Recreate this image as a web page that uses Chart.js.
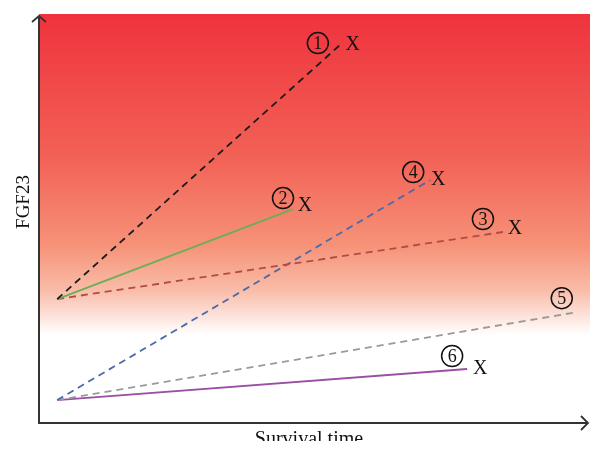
<!DOCTYPE html>
<html>
<head>
<meta charset="utf-8">
<script src="https://cdn.jsdelivr.net/npm/chart.js@4/dist/chart.umd.min.js"></script>
<style>
  html, body { margin:0; padding:0; background:#fff; }
  #wrap { width:604px; height:454px; }
</style>
</head>
<body>
<div id="wrap"><canvas id="chart" width="604" height="454"></canvas></div>
<script>
// Survival time (x) and FGF23 (y), arbitrary 0-100 units
const pathIds   = ['1', '2', '3', '4', '5', '6'];
const startX    = [3.3, 3.3, 3.3, 3.3, 3.3, 3.3];
const startY    = [30.3, 30.3, 30.3, 5.6, 5.6, 5.6];
const endX      = [54.6, 46.1, 84.2, 71.0, 97.6, 77.7];
const endY      = [92.4, 52.3, 46.7, 59.4, 27.1, 13.2];
const died      = [true, true, true, true, false, true];
const colors    = ['#1b1b1b', '#6aaf55', '#b44a45', '#4a6aa8', '#9a9a9a', '#9b4ea3'];
const dashed    = [true, false, true, true, true, false];
// label offsets (px) from line end: circle, then X
const circOff   = [[-22, -2], [-10, -11], [-20, -13], [-17, -8], [-15, -14], [-15, -13]];
const xOff      = [[13, 0], [12, -3], [12, -3], [8, 0], [0, 0], [13, 0]];

const datasets = pathIds.map((id, i) => ({
  label: 'Patient ' + id,
  data: [{ x: startX[i], y: startY[i] }, { x: endX[i], y: endY[i] }],
  borderColor: colors[i],
  borderWidth: 1.8,
  borderDash: dashed[i] ? [7, 5] : [],
  pointRadius: 0,
  showLine: true,
  fill: false
}));

const serif = '"Liberation Serif", "DejaVu Serif", serif';

const background = {
  id: 'background',
  beforeDatasetsDraw(chart) {
    const { ctx, chartArea: a } = chart;
    const fadeEnd = a.top + (a.bottom - a.top) * 0.785;
    const g = ctx.createLinearGradient(0, a.top, 0, fadeEnd);
    g.addColorStop(0, 'rgb(239,51,61)');
    g.addColorStop(0.45, 'rgb(242,98,86)');
    g.addColorStop(0.72, 'rgb(246,146,120)');
    g.addColorStop(0.86, 'rgb(249,188,168)');
    g.addColorStop(1, 'rgb(255,255,255)');
    ctx.save();
    ctx.fillStyle = g;
    ctx.fillRect(a.left, a.top, a.right - a.left, fadeEnd - a.top);
    ctx.restore();
  }
};

const decorations = {
  id: 'decorations',
  afterDatasetsDraw(chart) {
    const { ctx, chartArea: a, scales: { x, y } } = chart;
    ctx.save();
    // axes
    ctx.strokeStyle = '#333';
    ctx.lineWidth = 2;
    ctx.beginPath();
    ctx.moveTo(a.left, a.top + 2);
    ctx.lineTo(a.left, a.bottom);
    ctx.lineTo(a.right - 2, a.bottom);
    ctx.stroke();
    ctx.lineWidth = 1.8;
    ctx.beginPath();
    ctx.moveTo(a.left - 7, a.top + 8);
    ctx.lineTo(a.left, a.top + 2);
    ctx.lineTo(a.left + 7, a.top + 8);
    ctx.moveTo(a.right - 9, a.bottom - 7);
    ctx.lineTo(a.right - 2, a.bottom);
    ctx.lineTo(a.right - 9, a.bottom + 7);
    ctx.stroke();

    // end labels
    ctx.fillStyle = '#111';
    ctx.strokeStyle = '#111';
    ctx.textAlign = 'center';
    ctx.textBaseline = 'middle';
    pathIds.forEach((id, i) => {
      const px = x.getPixelForValue(endX[i]);
      const py = y.getPixelForValue(endY[i]);
      const cx = px + circOff[i][0], cy = py + circOff[i][1];
      ctx.lineWidth = 1.5;
      ctx.beginPath();
      ctx.arc(cx, cy, 10.5, 0, Math.PI * 2);
      ctx.stroke();
      ctx.font = '18px ' + serif;
      ctx.fillText(id, cx, cy + 1);
      if (died[i]) {
        ctx.font = '20px ' + serif;
        ctx.fillText('X', px + xOff[i][0], py + xOff[i][1]);
      }
    });

    // axis titles (x title is cut off at the bottom as in the source figure)
    ctx.font = '20px ' + serif;
    ctx.save();
    ctx.beginPath();
    ctx.rect(0, a.bottom + 2, 604, 441 - a.bottom - 2);
    ctx.clip();
    ctx.textBaseline = 'alphabetic';
    ctx.fillText('Survival time', 309, 445);
    ctx.restore();
    ctx.translate(24, 202);
    ctx.rotate(-Math.PI / 2);
    ctx.font = '19px ' + serif;
    ctx.fillText('FGF23', 0, 0);
    ctx.restore();
  }
};

new Chart(document.getElementById('chart'), {
  type: 'scatter',
  data: { datasets },
  options: {
    responsive: false,
    animation: false,
    layout: { padding: { left: 39, top: 14, right: 14, bottom: 31 } },
    plugins: { legend: { display: false }, tooltip: { enabled: false } },
    scales: {
      x: { type: 'linear', min: 0, max: 100, display: false },
      y: { type: 'linear', min: 0, max: 100, display: false }
    }
  },
  plugins: [background, decorations]
});
</script>
</body>
</html>
